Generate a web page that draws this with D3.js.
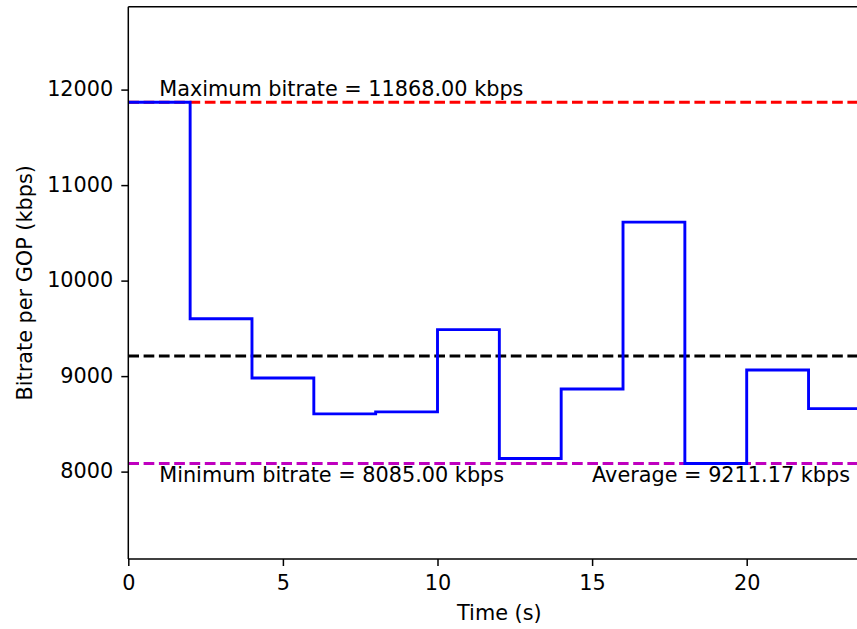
<!DOCTYPE html>
<html>
<head>
<meta charset="utf-8">
<script src="https://cdn.jsdelivr.net/npm/d3@7"></script>
<style>
  html, body { margin: 0; padding: 0; background: #fff; }
  svg { display: block; }
  text { font-family: "DejaVu Sans", sans-serif; fill: #000; }
</style>
</head>
<body>
<svg id="chart" width="857" height="629"></svg>
<script>
// ---- data ----
const times = [0, 2, 4, 6, 8, 10, 12, 14, 16, 18, 20, 22, 24];
const bitrates = [11868, 9600, 8980, 8605, 8625, 9487, 8138, 8865, 10612, 8085, 9064, 8660, 8660];
const maxBitrate = 11868.00;
const minBitrate = 8085.00;
const avgBitrate = 9211.17;
const xTicks = [0, 5, 10, 15, 20];
const yTicks = [8000, 9000, 10000, 11000, 12000];
const xLabel = "Time (s)";
const yLabel = "Bitrate per GOP (kbps)";
const maxText = "Maximum bitrate = 11868.00 kbps";
const minText = "Minimum bitrate = 8085.00 kbps";
const avgText = "Average = 9211.17 kbps";

// ---- layout ----
const svg = d3.select("#chart");
const mLeft = 128.3, mTop = 6.7, mBottom = 559, pxPerSec = 30.92;
const xMax = 24;
const x = d3.scaleLinear().domain([0, xMax]).range([mLeft, mLeft + xMax * pxPerSec]);
const y = d3.scaleLinear().domain([minBitrate - 1000, maxBitrate + 1000]).range([mBottom, mTop]);
const fs = 20.8;
const lw = 2.9;
const dash = "10.7,4.6";

const plot = svg.append("g");

// horizontal reference lines
const hlines = [
  { v: maxBitrate, c: "#ff0000" },
  { v: avgBitrate, c: "#000000" },
  { v: minBitrate, c: "#bf00bf" }
];
plot.selectAll("line.h").data(hlines).enter().append("line")
  .attr("x1", x(0)).attr("x2", x(xMax))
  .attr("y1", d => y(d.v)).attr("y2", d => y(d.v))
  .attr("stroke", d => d.c).attr("stroke-width", lw)
  .attr("stroke-dasharray", dash);

// step line
const pts = times.map((t, i) => [t, bitrates[i]]);
const line = d3.line().x(d => x(d[0])).y(d => y(d[1])).curve(d3.curveStepAfter);
plot.append("path").datum(pts)
  .attr("d", line).attr("fill", "none")
  .attr("stroke", "#0000ff").attr("stroke-width", lw)
  .attr("stroke-linejoin", "miter");

// annotations
svg.append("text").attr("x", x(1)).attr("y", y(maxBitrate) - 6.2)
  .attr("font-size", fs).text(maxText);
svg.append("text").attr("x", x(1)).attr("y", y(minBitrate) + 18.5)
  .attr("font-size", fs).text(minText);
svg.append("text").attr("x", x(15)).attr("y", y(minBitrate) + 18.5)
  .attr("font-size", fs).text(avgText);

// axes
const xAxis = d3.axisBottom(x).tickValues(xTicks).tickSize(7).tickPadding(9.2).tickFormat(d3.format("d"));
const yAxis = d3.axisLeft(y).tickValues(yTicks).tickSize(7).tickPadding(8).tickFormat(d3.format("d"));

const gx = svg.append("g").attr("transform", `translate(0,${mBottom})`).call(xAxis);
const gy = svg.append("g").attr("transform", `translate(${mLeft},0)`).call(yAxis);
[gx, gy].forEach(g => {
  g.select(".domain").remove();
  g.selectAll(".tick line").attr("stroke", "#000").attr("stroke-width", 1.5);
  g.selectAll(".tick text").attr("font-size", fs).attr("fill", "#000")
    .attr("font-family", "DejaVu Sans, sans-serif");
});
gy.selectAll(".tick text").attr("dy", "0.30em");

// spines
const spineW = 1.5;
svg.append("line").attr("x1", mLeft).attr("x2", mLeft).attr("y1", mTop).attr("y2", mBottom)
  .attr("stroke", "#000").attr("stroke-width", spineW);
svg.append("line").attr("x1", mLeft).attr("x2", x(xMax)).attr("y1", mBottom).attr("y2", mBottom)
  .attr("stroke", "#000").attr("stroke-width", spineW);
svg.append("line").attr("x1", mLeft).attr("x2", x(xMax)).attr("y1", mTop).attr("y2", mTop)
  .attr("stroke", "#000").attr("stroke-width", spineW);
svg.append("line").attr("x1", x(xMax)).attr("x2", x(xMax)).attr("y1", mTop).attr("y2", mBottom)
  .attr("stroke", "#000").attr("stroke-width", spineW);

// axis labels
svg.append("text").attr("x", (x(0) + x(xMax)) / 2).attr("y", 620)
  .attr("text-anchor", "middle").attr("font-size", fs).text(xLabel);
svg.append("text")
  .attr("transform", `translate(32,${(mTop + mBottom) / 2}) rotate(-90)`)
  .attr("text-anchor", "middle").attr("font-size", fs).text(yLabel);
</script>
</body>
</html>
